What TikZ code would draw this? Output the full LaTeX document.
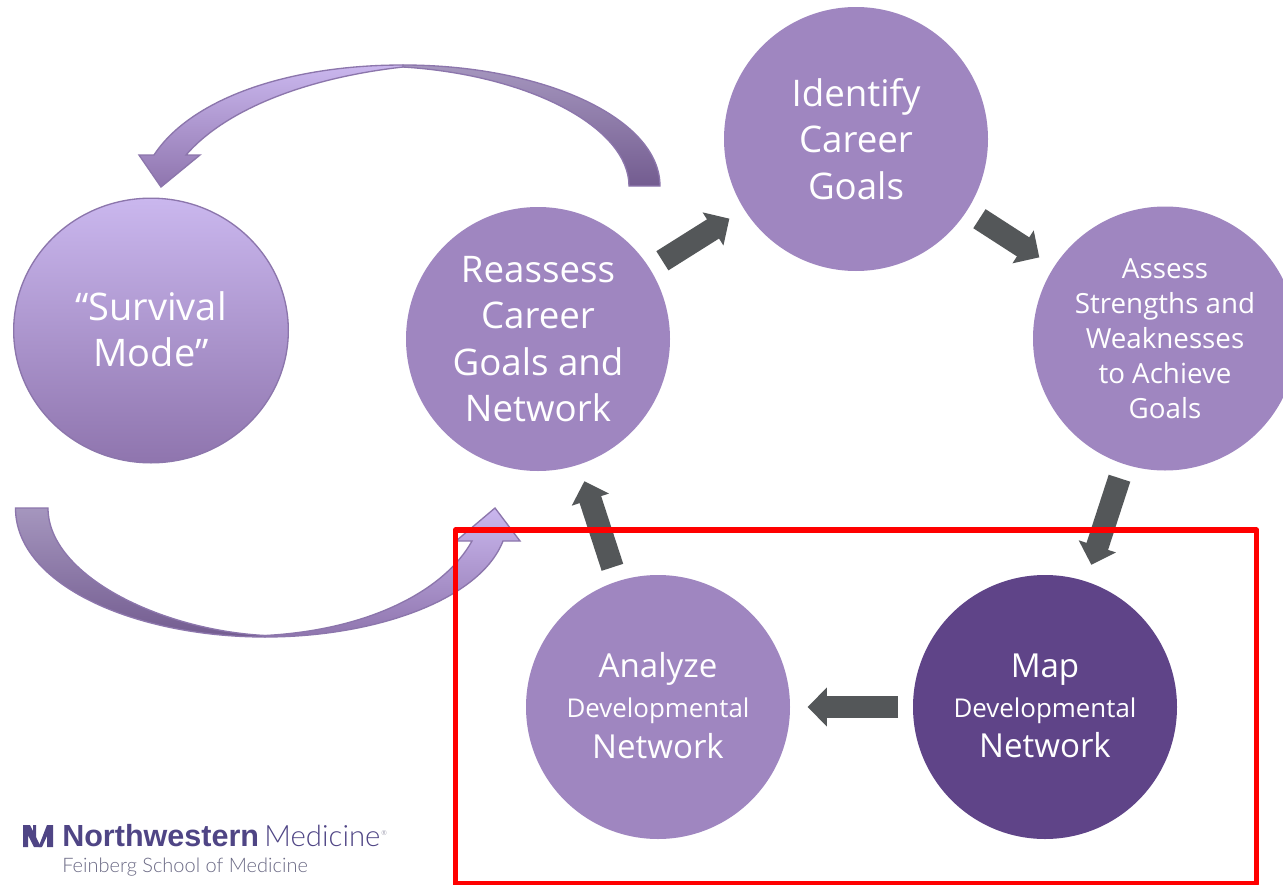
\documentclass[tikz,border=0pt]{standalone}
\usepackage{fontspec}
\usetikzlibrary{arrows.meta,shapes.geometric}
\setmainfont{Open Sans}
\newfontfamily\logobold{Liberation Sans}
\newfontfamily\logolight{Lato Light}
\definecolor{circ}{HTML}{9F86C0}
\definecolor{mapc}{HTML}{5F4488}
\definecolor{arr}{HTML}{545759}
\definecolor{lite}{HTML}{CAB7EE}
\definecolor{midc}{HTML}{8F75AE}
\definecolor{tailt}{HTML}{A596BE}
\definecolor{taild}{HTML}{735C90}
\definecolor{edge}{HTML}{8C76AC}
\definecolor{logo}{HTML}{4F4585}
\definecolor{logog}{HTML}{6B6A85}
\tikzset{
  stage/.style={circle,minimum size=198pt,inner sep=0pt,fill=circ,text=white,align=center,font=\fontsize{27.5pt}{34.9pt}\selectfont},
  network/.style={stage,font=\fontsize{24.8pt}{30pt}\selectfont},
  blockarrow/.style={draw=arr,line width=17pt,-{Triangle[length=14.5pt,width=28.5pt]},shorten <=11pt,shorten >=13pt},
  curveface/.style={draw=edge,line width=1pt},
}
\newcommand{\smalltxt}[1]{{\fontsize{19.4pt}{22pt}\selectfont #1}}
\newcommand{\lowdepth}[1]{\rule[-#1]{0pt}{#1}}
\begin{document}
\begin{tikzpicture}[x=0.75pt,y=-0.75pt]
\useasboundingbox (0,0) rectangle (1283,885);
\fill[white] (0,0) rectangle (1283,885);
% curved arrows
\path[curveface,top color=tailt,bottom color=taild]
  (660,186) .. controls (660,119) and (545,65) .. (403,65)
  -- (403,67) .. controls (531,75) and (629,128) .. (629,186) -- cycle;
\path[curveface,top color=lite,bottom color=midc]
  (403,65) .. controls (285,65) and (190,100) .. (154,155) -- (139,155) -- (161,187) -- (200,155) -- (186,155)
  .. controls (225,110) and (305,78) .. (403,67) -- cycle;
\path[curveface,top color=tailt,bottom color=taild]
  (15.5,508) .. controls (15.5,585) and (135,637) .. (265,637)
  -- (265,635.5) .. controls (160,630) and (48,575) .. (48,508) -- cycle;
\path[curveface,bottom color=midc,top color=lite]
  (265,637) .. controls (375,637) and (480,600) .. (503,541) -- (520,541) -- (495,508) -- (456,541) -- (472,541)
  .. controls (445,590) and (370,630) .. (265,635.5) -- cycle;
% circles
\node[ellipse,minimum width=206pt,minimum height=198.5pt,inner sep=0pt,draw=edge,line width=1pt,top color=lite,bottom color=midc,text=white,align=center,font=\fontsize{28.5pt}{34.9pt}\selectfont] (survival) at (151,330.5) {“Survival\\Mode”\lowdepth{2pt}};
\node[stage] (identify) at (856,139) {Identify\\Career\\Goals};
\node[stage,font=\fontsize{20.8pt}{26.2pt}\selectfont] (assess) at (1165,338.5) {Assess\\Strengths and\\Weaknesses\\to Achieve\\Goals};
\node[network,fill=mapc] (map) at (1045,707) {Map\\[0pt]\smalltxt{Developmental}\\[0.7pt]Network\lowdepth{2pt}};
\node[network] (analyze) at (658,707) {Analyze\\[0pt]\smalltxt{Developmental}\\[0.7pt]Network\lowdepth{2pt}};
\node[stage] (reassess) at (538,339) {Reassess\\Career\\Goals and\\Network};
% block arrows
\draw[blockarrow] (reassess) -- (identify);
\draw[blockarrow] (identify) -- (assess);
\draw[blockarrow] (assess) -- (map);
\draw[blockarrow] (map) -- (analyze);
\draw[blockarrow] (analyze) -- (reassess);
% red frame
\draw[red,line width=4.2pt,line join=round] (455.5,530) rectangle (1256.5,884);
% logo
\fill[logo] (23,825) -- (30,825) -- (41,847) -- (34,847) -- (28,835) -- (28,847) -- (23,847) -- cycle;
\fill[logo] (47,825) -- (53,825) -- (53,847) -- (47,847) -- (47,836) -- (42,847) -- (38.5,847) -- cycle;
\fill[logo] (33,825) -- (36,825) -- (36,838) -- (33,832) -- cycle;
\node[anchor=base west,inner sep=0pt,text=logo,font=\logobold\bfseries\fontsize{22.9pt}{24pt}\selectfont] (nw) at (62,846) {Northwestern};
\node[anchor=base west,inner sep=0pt,text=logo,font=\logolight\fontsize{22pt}{24pt}\selectfont] (med) at (nw.base east) {\,Medicine};
\node[anchor=base west,inner sep=0pt,text=logog,font=\logolight\fontsize{5pt}{6pt}\selectfont] (reg) at (381,835) {®};
\node[anchor=base west,inner sep=0pt,text=logog,font=\logolight\fontsize{15pt}{18pt}\selectfont] (fsm) at (62,872) {Feinberg School of Medicine};
\end{tikzpicture}
\end{document}
